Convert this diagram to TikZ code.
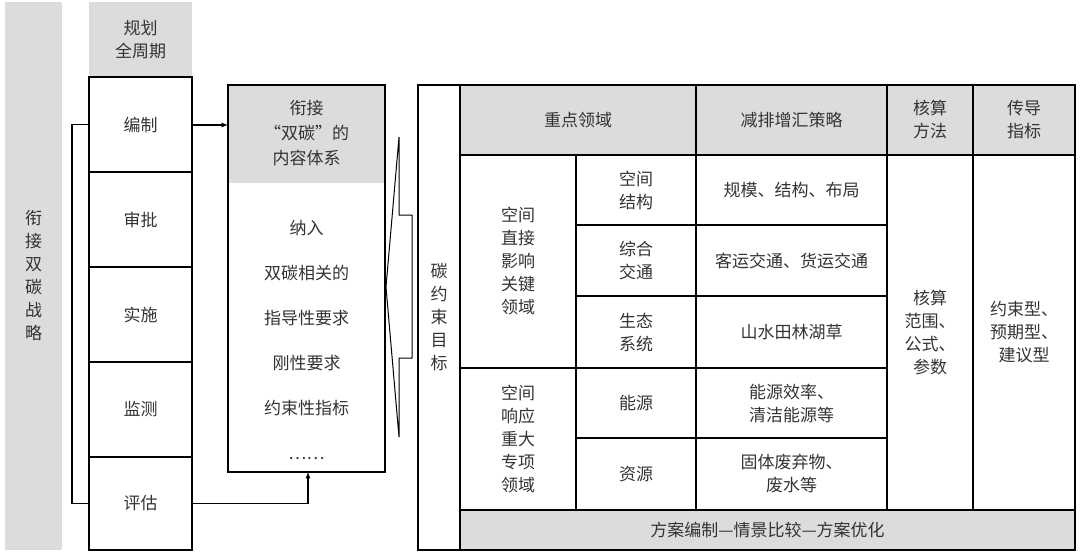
\documentclass[tikz,border=0pt]{standalone}
\usepackage{fontspec}
\setmainfont{Noto Sans CJK SC}
\usetikzlibrary{calc}
\definecolor{boxgray}{HTML}{DCDCDC}
\definecolor{txtgray}{HTML}{333333}
\tikzset{
  cellbox/.style={draw=black, line width=1.8pt, inner sep=0pt, outer sep=0pt, align=center, text=txtgray, font=\fontsize{17}{23}\selectfont},
  graybox/.style={fill=boxgray, inner sep=0pt, outer sep=0pt, align=center, text=txtgray, font=\fontsize{17}{23}\selectfont},
  linkline/.style={line width=1.2pt, -latex}
}
% cell: name, x1, y1, x2, y2, style, text
\newcommand{\tcell}[7]{\node[#6, minimum width=#4pt-#2pt, minimum height=#5pt-#3pt] (#1) at ({(#2+#4)/2},{(#3+#5)/2}) {#7};}
\begin{document}
\begin{tikzpicture}[x=1pt,y=-1pt]
  \useasboundingbox (0,0) rectangle (1080,555);
  % left bars
  \tcell{strat}{5}{2}{62}{550}{graybox}{衔\\接\\双\\碳\\战\\略}
  \tcell{cyc}{89}{2}{192}{77}{graybox}{规划\\全周期}
  \tcell{bz}{89}{77}{192}{172}{cellbox}{编制}
  \tcell{sp}{89}{172}{192}{267}{cellbox}{审批}
  \tcell{ss}{89}{267}{192}{362}{cellbox}{实施}
  \tcell{jc}{89}{362}{192}{457}{cellbox}{监测}
  \tcell{pg}{89}{457}{192}{550}{cellbox}{评估}
  \draw[line width=1.2pt] (bz.west) -- ++(-17,0) coordinate (fbtop) |- (pg.west);
  % content system
  \fill[boxgray] (228,85) rectangle (385,183);
  \node[graybox, fill=none, font=\fontsize{17}{25}\selectfont] (ctitle) at (306.5,133) {衔接\\“双碳”的\\内容体系};
  \node[inner sep=0pt, align=center, text=txtgray, font=\fontsize{17}{45}\selectfont] (clist) at (306.5,340) {纳入\\双碳相关的\\指导性要求\\刚性要求\\约束性指标\\……};
  \draw[line width=1.8pt] (228,85) rectangle (385,472);
  \coordinate (cin) at (228,125);
  \coordinate (cbot) at (308,472);
  \draw[linkline] (bz.east |- cin) -- (cin);
  \draw[linkline] (pg.east) -| (cbot);
  % bracket arrow
  \draw[line width=1pt] (399,137) -- (399,215) -- (412,215) -- (412,358) -- (399,358) -- (399,437) -- (386,287) -- cycle;
  % right table
  \tcell{goal}{418}{85}{460}{550}{cellbox}{碳\\约\\束\\目\\标}
  \tcell{h1}{460}{85}{696}{155}{cellbox, fill=boxgray}{重点领域}
  \tcell{h2}{696}{85}{887}{155}{cellbox, fill=boxgray}{减排增汇策略}
  \tcell{h3}{887}{85}{973}{155}{cellbox, fill=boxgray}{核算\\方法}
  \tcell{h4}{973}{85}{1075}{155}{cellbox, fill=boxgray}{传导\\指标}
  \tcell{g1}{460}{155}{576}{368}{cellbox}{空间\\直接\\影响\\关键\\领域}
  \tcell{g2}{460}{368}{576}{510}{cellbox}{空间\\响应\\重大\\专项\\领域}
  \tcell{a1}{576}{155}{696}{225}{cellbox}{空间\\结构}
  \tcell{a2}{576}{225}{696}{296}{cellbox}{综合\\交通}
  \tcell{a3}{576}{296}{696}{368}{cellbox}{生态\\系统}
  \tcell{a4}{576}{368}{696}{438}{cellbox}{能源}
  \tcell{a5}{576}{438}{696}{510}{cellbox}{资源}
  \tcell{b1}{696}{155}{887}{225}{cellbox}{规模、结构、布局}
  \tcell{b2}{696}{225}{887}{296}{cellbox}{客运交通、货运交通}
  \tcell{b3}{696}{296}{887}{368}{cellbox}{山水田林湖草}
  \tcell{b4}{696}{368}{887}{438}{cellbox}{能源效率、\\清洁能源等}
  \tcell{b5}{696}{438}{887}{510}{cellbox}{固体废弃物、\\废水等}
  \tcell{m1}{887}{155}{973}{510}{cellbox}{核算\\范围、\\公式、\\参数}
  \tcell{t1}{973}{155}{1075}{510}{cellbox}{约束型、\\预期型、\\建议型}
  \tcell{opt}{460}{510}{1075}{550}{cellbox, fill=boxgray}{方案编制—情景比较—方案优化}
\end{tikzpicture}
\end{document}
